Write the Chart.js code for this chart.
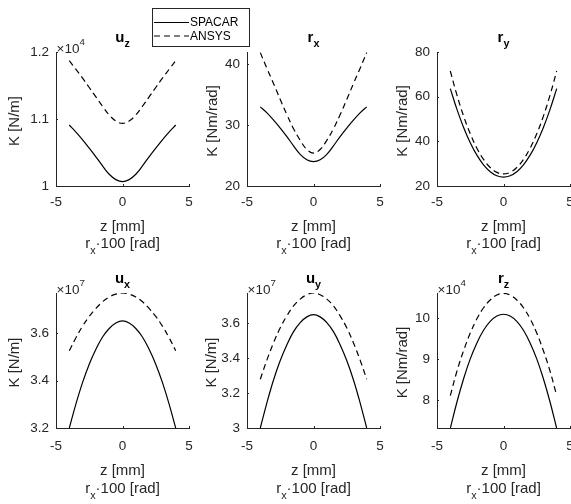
<!DOCTYPE html>
<html>
<head>
<meta charset="utf-8">
<script src="https://cdn.jsdelivr.net/npm/chart.js@4.4.1/dist/chart.umd.min.js"></script>
<style>
  html, body { margin: 0; padding: 0; background: #fff; }
  #fig { position: relative; width: 571px; height: 504px; overflow: hidden; background: #fff; }
  #fig canvas { position: absolute; }
</style>
</head>
<body>
<div id="fig"></div>
<script>
// positions along the hinge, z [mm]
const zPos = [-4, -3.5, -3, -2.5, -2, -1.5, -1, -0.5, 0, 0.5, 1, 1.5, 2, 2.5, 3, 3.5, 4];
const xTicks = [-5, 0, 5];

// stiffness u_z [N/m], x10^4
const uzSpacar = [1.091, 1.0805, 1.069, 1.0565, 1.0435, 1.030, 1.0175, 1.0095, 1.0065, 1.0095, 1.0175, 1.030, 1.0435, 1.0565, 1.069, 1.0805, 1.091];
const uzAnsys  = [1.187, 1.174, 1.161, 1.147, 1.133, 1.119, 1.106, 1.097, 1.0935, 1.097, 1.106, 1.119, 1.133, 1.147, 1.161, 1.174, 1.187];
const uzTicks  = [1, 1.1, 1.2];

// stiffness r_x [Nm/rad]
const rxSpacar = [33.0, 32.0, 30.8, 29.5, 28.1, 26.6, 25.2, 24.3, 24.0, 24.3, 25.2, 26.6, 28.1, 29.5, 30.8, 32.0, 33.0];
const rxAnsys  = [41.9, 39.3, 36.8, 34.2, 31.7, 29.4, 27.5, 26.0, 25.4, 26.0, 27.5, 29.4, 31.7, 34.2, 36.8, 39.3, 41.9];
const rxTicks  = [20, 30, 40];

// stiffness r_y [Nm/rad]
const rySpacar = [63.6, 54.3, 46.2, 39.4, 33.8, 29.5, 26.4, 24.6, 24.0, 24.6, 26.4, 29.5, 33.8, 39.4, 46.2, 54.3, 63.6];
const ryAnsys  = [71.5, 60.7, 51.3, 43.4, 36.9, 31.9, 28.3, 26.1, 25.4, 26.1, 28.3, 31.9, 36.9, 43.4, 51.3, 60.7, 71.5];
const ryTicks  = [20, 40, 60, 80];

// stiffness u_x [N/m], x10^7
const uxSpacar = [3.200, 3.302, 3.393, 3.470, 3.533, 3.585, 3.621, 3.644, 3.653, 3.644, 3.621, 3.585, 3.533, 3.470, 3.393, 3.302, 3.200];
const uxAnsys  = [3.527, 3.582, 3.631, 3.672, 3.706, 3.734, 3.754, 3.766, 3.771, 3.766, 3.754, 3.734, 3.706, 3.672, 3.631, 3.582, 3.527];
const uxTicks  = [3.2, 3.4, 3.6];

// stiffness u_y [N/m], x10^7
const uySpacar = [3.000, 3.146, 3.277, 3.387, 3.478, 3.553, 3.605, 3.638, 3.651, 3.638, 3.605, 3.553, 3.478, 3.387, 3.277, 3.146, 3.000];
const uyAnsys  = [3.280, 3.391, 3.490, 3.575, 3.644, 3.701, 3.740, 3.765, 3.775, 3.765, 3.740, 3.701, 3.644, 3.575, 3.490, 3.391, 3.280];
const uyTicks  = [3, 3.2, 3.4, 3.6];

// stiffness r_z [Nm/rad], x10^4
const rzSpacar = [7.31, 7.955, 8.525, 9.01, 9.40, 9.708, 9.925, 10.056, 10.1, 10.056, 9.925, 9.708, 9.40, 9.01, 8.525, 7.955, 7.31];
const rzAnsys  = [8.11, 8.71, 9.21, 9.64, 9.99, 10.26, 10.45, 10.57, 10.61, 10.57, 10.45, 10.26, 9.99, 9.64, 9.21, 8.71, 8.11];
const rzTicks  = [8, 9, 10];

const panels = [
  { title: ['u', 'z'], exp: '4', ylab: 'K [N/m]',    sp: uzSpacar, an: uzAnsys, ticks: uzTicks, min: 1,    max: 1.2 },
  { title: ['r', 'x'], exp: null, ylab: 'K [Nm/rad]', sp: rxSpacar, an: rxAnsys, ticks: rxTicks, min: 20,   max: 42 },
  { title: ['r', 'y'], exp: null, ylab: 'K [Nm/rad]', sp: rySpacar, an: ryAnsys, ticks: ryTicks, min: 20,   max: 80 },
  { title: ['u', 'x'], exp: '7', ylab: 'K [N/m]',    sp: uxSpacar, an: uxAnsys, ticks: uxTicks, min: 3.2,  max: 3.771 },
  { title: ['u', 'y'], exp: '7', ylab: 'K [N/m]',    sp: uySpacar, an: uyAnsys, ticks: uyTicks, min: 3,    max: 3.775 },
  { title: ['r', 'z'], exp: '4', ylab: 'K [Nm/rad]', sp: rzSpacar, an: rzAnsys, ticks: rzTicks, min: 7.32, max: 10.62 }
];

const FONT = "'Liberation Sans', Arial, Helvetica, sans-serif";
const INK = '#262626';
const TICK_PX = 13.5, LABEL_PX = 15, TITLE_PX = 15;
const H = 263, TOP = 52, AXW = 56, PW = 133;
const cols = [0, 191, 381];
const rows = [
  { top: 0,   ph: 134, pad: 8,  zBase: 45, rBase: 62 },
  { top: 241, ph: 135, pad: 10, zBase: 47, rBase: 65 }
];
const ylabX = [15, 22.3, 22.3, 15, 21, 22];

// text with sub/superscripts: parts = [[text, 'sub'|'sup'|null], ...]
function richText(ctx, parts, x, y, size, weight, align) {
  const fontOf = p => weight + ' ' + (p[1] ? size * 0.72 : size) + 'px ' + FONT;
  let w = 0;
  parts.forEach(p => { ctx.font = fontOf(p); w += ctx.measureText(p[0]).width; });
  let cx = align === 'center' ? x - w / 2 : x;
  ctx.textAlign = 'left';
  parts.forEach(p => {
    ctx.font = fontOf(p);
    const dy = p[1] === 'sub' ? size * 0.38 : p[1] === 'sup' ? -size * 0.55 : 0;
    ctx.fillText(p[0], cx, y + dy);
    cx += ctx.measureText(p[0]).width;
  });
}

const panelText = {
  id: 'panelText',
  afterDraw(chart, args, opts) {
    const { ctx, chartArea: a } = chart;
    const p = opts.panel, r = opts.row;
    const xs = chart.scales.x, ys = chart.scales.y;
    ctx.save();

    // short inward tick marks
    ctx.strokeStyle = INK;
    ctx.lineWidth = 1;
    ctx.beginPath();
    xTicks.forEach(v => {
      const px = Math.round(xs.getPixelForValue(v)) + 0.5;
      ctx.moveTo(px, a.bottom); ctx.lineTo(px, a.bottom - 2);
    });
    p.ticks.forEach(v => {
      const py = Math.round(ys.getPixelForValue(v)) + 0.5;
      ctx.moveTo(a.left, py); ctx.lineTo(a.left + 2, py);
    });
    ctx.stroke();

    const cx = (a.left + a.right) / 2;
    ctx.textBaseline = 'alphabetic';

    // title
    ctx.fillStyle = '#000';
    richText(ctx, [[p.title[0], null], [p.title[1], 'sub']], cx, a.top - 10.5, TITLE_PX, 'bold', 'center');

    // exponent of the y axis
    ctx.fillStyle = INK;
    if (p.exp) richText(ctx, [['\u00d710', null], [p.exp, 'sup']], a.left + 0.5, a.top + 0.5, TICK_PX, 'normal', 'left');

    // x axis labels
    richText(ctx, [['z [mm]', null]], cx, a.bottom + r.zBase, LABEL_PX, 'normal', 'center');
    richText(ctx, [['r', null], ['x', 'sub'], ['\u00b7100 [rad]', null]], cx, a.bottom + r.rBase, LABEL_PX, 'normal', 'center');

    // y axis label
    ctx.save();
    ctx.translate(opts.ylabX, (a.top + a.bottom) / 2 + 2);
    ctx.rotate(-Math.PI / 2);
    ctx.font = LABEL_PX + 'px ' + FONT;
    ctx.textAlign = 'center';
    ctx.textBaseline = 'middle';
    ctx.fillText(p.ylab, 0, 0);
    ctx.restore();

    // figure legend
    if (opts.legend) {
      ctx.fillStyle = '#fff';
      ctx.fillRect(152.5, 8.5, 97, 38);
      ctx.strokeStyle = INK;
      ctx.strokeRect(152.5, 8.5, 97, 38);
      const rowsY = [22.5, 36];
      chart.data.datasets.forEach((ds, i) => {
        ctx.strokeStyle = '#000';
        ctx.lineWidth = 1.2;
        ctx.setLineDash(ds.borderDash || []);
        ctx.beginPath();
        ctx.moveTo(154, rowsY[i]); ctx.lineTo(189, rowsY[i]);
        ctx.stroke();
        ctx.setLineDash([]);
        ctx.fillStyle = '#000';
        ctx.font = '12px ' + FONT;
        ctx.textAlign = 'left';
        ctx.textBaseline = 'middle';
        ctx.fillText(ds.label, 190, rowsY[i] + 0.5);
      });
    }
    ctx.restore();
  }
};

const fig = document.getElementById('fig');

panels.forEach((p, i) => {
  const col = i % 3, row = rows[Math.floor(i / 3)];
  const W = i === 0 ? 260 : 200;
  const cv = document.createElement('canvas');
  cv.width = W; cv.height = H;
  cv.style.left = cols[col] + 'px';
  cv.style.top = row.top + 'px';
  fig.appendChild(cv);

  new Chart(cv.getContext('2d'), {
    type: 'line',
    data: {
      datasets: [
        {
          label: 'SPACAR',
          data: zPos.map((z, k) => ({ x: z, y: p.sp[k] })),
          borderColor: '#000', borderWidth: 1.2, pointRadius: 0, tension: 0.4
        },
        {
          label: 'ANSYS',
          data: zPos.map((z, k) => ({ x: z, y: p.an[k] })),
          borderColor: '#000', borderWidth: 1.2, borderDash: [6, 4], pointRadius: 0, tension: 0.4
        }
      ]
    },
    options: {
      responsive: false,
      animation: false,
      events: [],
      layout: { padding: { top: TOP, left: 0, right: W - AXW - PW, bottom: 0 } },
      plugins: {
        legend: { display: false },
        tooltip: { enabled: false },
        panelText: { panel: p, row: row, ylabX: ylabX[i], legend: i === 0 }
      },
      scales: {
        x: {
          type: 'linear', min: -5, max: 5,
          afterBuildTicks: s => { s.ticks = xTicks.map(v => ({ value: v })); },
          afterFit: s => { s.height = H - TOP - row.ph; s.paddingLeft = 0; s.paddingRight = 0; },
          ticks: { font: { family: FONT, size: TICK_PX }, color: INK, padding: row.pad, maxRotation: 0, autoSkip: false,
                   callback: v => String(v) },
          grid: { display: false, drawTicks: false },
          border: { display: true, color: INK, width: 1 }
        },
        y: {
          type: 'linear', min: p.min, max: p.max,
          afterBuildTicks: s => { s.ticks = p.ticks.map(v => ({ value: v })); },
          afterFit: s => { s.width = AXW; s.paddingTop = 0; s.paddingBottom = 0; },
          ticks: { font: { family: FONT, size: TICK_PX }, color: INK, padding: 7, autoSkip: false,
                   callback: v => String(v) },
          grid: { display: false, drawTicks: false },
          border: { display: true, color: INK, width: 1 }
        }
      }
    },
    plugins: [panelText]
  });
});
</script>
</body>
</html>
